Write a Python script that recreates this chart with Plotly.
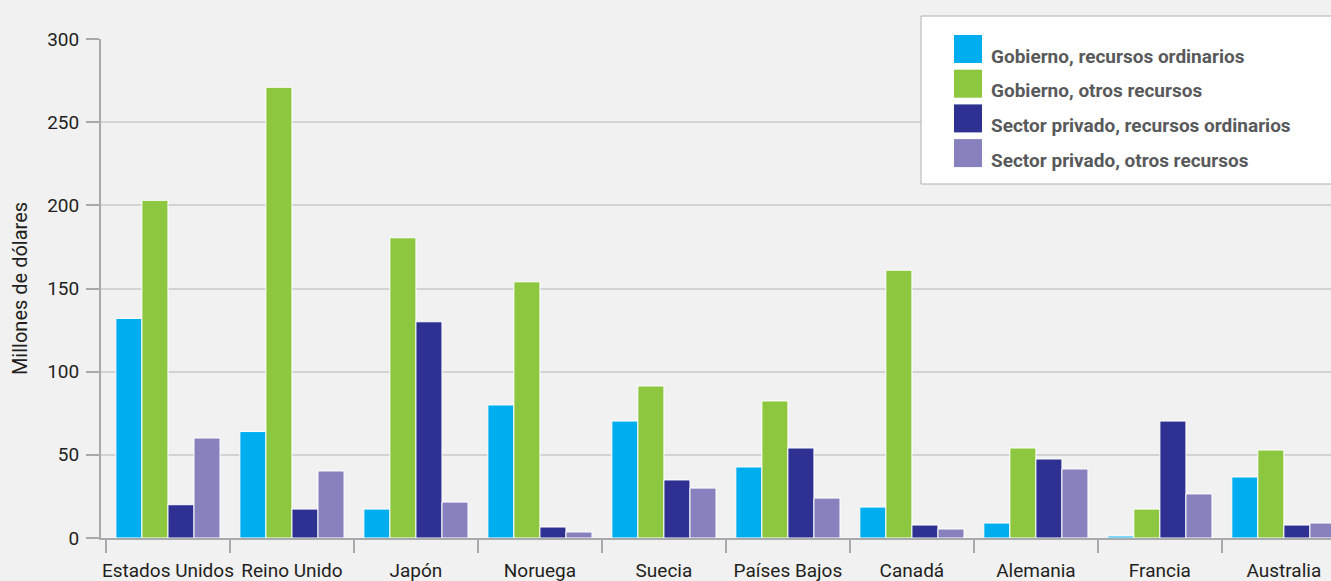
import plotly.graph_objects as go

categories = ["Estados Unidos", "Reino Unido", "Japón", "Noruega", "Suecia",
              "Países Bajos", "Canadá", "Alemania", "Francia", "Australia"]
series_names = ["Gobierno, recursos ordinarios", "Gobierno, otros recursos",
                "Sector privado, recursos ordinarios", "Sector privado, otros recursos"]
gov_regular = [132, 64, 17.4, 80, 70.3, 42.7, 18.6, 9, 1.2, 36.7]
gov_other = [203, 271, 180.5, 154, 91.4, 82.4, 161, 54.1, 17.4, 52.9]
priv_regular = [20, 17.4, 130, 6.6, 34.9, 54.1, 7.8, 47.5, 70.3, 7.8]
priv_other = [60.1, 40.3, 21.6, 3.6, 30, 24, 5.4, 41.5, 26.5, 9]
colors = ["#00aeef", "#8dc63f", "#2e3192", "#8781bd"]
y_ticks = [0, 50, 100, 150, 200, 250, 300]

series_values = [gov_regular, gov_other, priv_regular, priv_other]

W, H = 1331, 581
L, R, T, B = 101, 0, 39, 43
pw, ph = W - L - R, H - T - B

def px_x(x):
    return (x - L) / pw

def px_y(y):
    return (H - B - y) / ph

FONT = "Roboto, Liberation Sans, sans-serif"

fig = go.Figure()
for name, vals, col in zip(series_names, series_values, colors):
    fig.add_trace(go.Bar(
        x=categories, y=vals, name=name,
        marker=dict(color=col, line=dict(color="#ffffff", width=1)),
        showlegend=False,
    ))

# custom legend
shapes = [dict(type="rect", xref="paper", yref="paper",
               x0=px_x(921), x1=px_x(1345), y0=px_y(184), y1=px_y(16),
               fillcolor="#ffffff", line=dict(color="#b0b0b0", width=1), layer="above")]
annotations = []
for i, (name, col) in enumerate(zip(series_names, colors)):
    top = 35 + i * 34.7
    shapes.append(dict(type="rect", xref="paper", yref="paper",
                       x0=px_x(954), x1=px_x(982), y0=px_y(top + 28), y1=px_y(top),
                       fillcolor=col, line=dict(width=0), layer="above"))
    annotations.append(dict(xref="paper", yref="paper", x=px_x(989), y=px_y(top + 21),
                            text="<b>" + name + "</b>", showarrow=False,
                            xanchor="left", yanchor="middle",
                            font=dict(family=FONT, size=19, color="#58595b")))

fig.update_layout(
    width=W, height=H,
    margin=dict(l=L, r=R, t=T, b=B, autoexpand=False),
    paper_bgcolor="#f1f1f1", plot_bgcolor="#f1f1f1",
    barmode="group", bargap=0.16, bargroupgap=0,
    shapes=shapes, annotations=annotations,
    font=dict(family=FONT, size=19, color="#231f20"),
    xaxis=dict(type="category", range=[-0.54, 9.38], tickson="boundaries",
               ticks="outside", ticklen=13, tickcolor="#a7a9ac", tickwidth=2,
               showline=True, linecolor="#a7a9ac", linewidth=2, tickangle=0,
               showgrid=False, tickfont=dict(size=19, color="#231f20"),
               ticklabelstandoff=14),
    yaxis=dict(range=[0, 300], tickvals=y_ticks, ticks="outside", ticklen=13,
               tickcolor="#a7a9ac", tickwidth=2, showline=True,
               linecolor="#a7a9ac", linewidth=2, gridcolor="#d3d3d3", gridwidth=2,
               zeroline=False, tickfont=dict(size=19, color="#231f20"),
               ticklabelstandoff=3,
               title=dict(text="Millones de dólares", standoff=14,
                          font=dict(size=20, color="#231f20"))),
)

fig.write_html("out.html", config={"displayModeBar": False},
               post_script="document.body.style.margin='0';")
